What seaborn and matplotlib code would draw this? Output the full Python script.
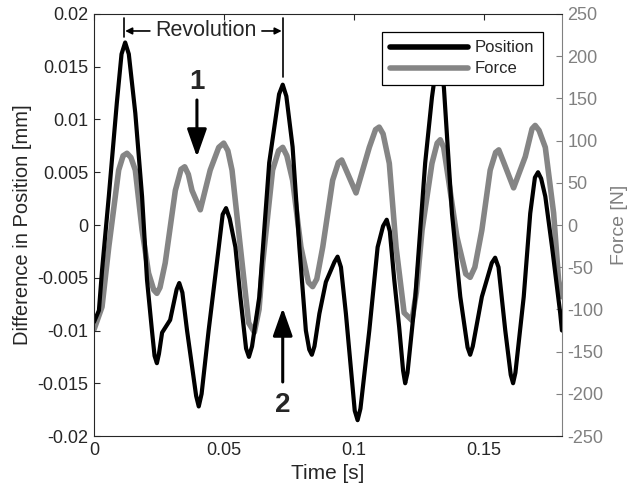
import numpy as np
import pandas as pd
import matplotlib
matplotlib.use("Agg")
import matplotlib.pyplot as plt
import seaborn as sns

# Position deviation of the spindle [mm] over time [s]
pos_t = [0.0000, 0.0019, 0.0031, 0.0057, 0.0088, 0.0106, 0.0120, 0.0134, 0.0159, 0.0185,
         0.0204, 0.0223, 0.0233, 0.0242, 0.0250, 0.0262, 0.0293, 0.0318, 0.0328, 0.0340,
         0.0358, 0.0393, 0.0403, 0.0414, 0.0441, 0.0480, 0.0495, 0.0508, 0.0522, 0.0544,
         0.0563, 0.0585, 0.0596, 0.0608, 0.0636, 0.0674, 0.0712, 0.0726, 0.0740, 0.0764,
         0.0790, 0.0815, 0.0828, 0.0838, 0.0848, 0.0867, 0.0892, 0.0925, 0.0937, 0.0950,
         0.0969, 0.1003, 0.1014, 0.1025, 0.1059, 0.1091, 0.1112, 0.1126, 0.1138, 0.1155,
         0.1174, 0.1189, 0.1197, 0.1206, 0.1236, 0.1274, 0.1300, 0.1315, 0.1327, 0.1339,
         0.1346, 0.1377, 0.1409, 0.1437, 0.1447, 0.1457, 0.1492, 0.1530, 0.1543, 0.1556,
         0.1582, 0.1603, 0.1612, 0.1621, 0.1653, 0.1678, 0.1696, 0.1708, 0.1720, 0.1736,
         0.1762, 0.1793, 0.1800]
pos_mm = [-0.0092, -0.0081, -0.0043, 0.0027, 0.0116, 0.0162, 0.0173, 0.0162, 0.0106, 0.0027,
          -0.0052, -0.0100, -0.0124, -0.0131, -0.0122, -0.0102, -0.0090, -0.0061, -0.0055, -0.0064,
          -0.0100, -0.0162, -0.0172, -0.0160, -0.0100, -0.0021, 0.0010, 0.0016, 0.0006, -0.0021,
          -0.0068, -0.0117, -0.0125, -0.0115, -0.0068, 0.0059, 0.0124, 0.0133, 0.0122, 0.0074,
          -0.0021, -0.0100, -0.0118, -0.0123, -0.0115, -0.0084, -0.0054, -0.0035, -0.0030, -0.0040,
          -0.0084, -0.0176, -0.0185, -0.0174, -0.0100, -0.0021, -0.0001, 0.0005, -0.0006, -0.0052,
          -0.0097, -0.0138, -0.0150, -0.0140, -0.0068, 0.0059, 0.0121, 0.0148, 0.0155, 0.0145,
          0.0130, 0.0011, -0.0068, -0.0116, -0.0123, -0.0115, -0.0068, -0.0036, -0.0031, -0.0040,
          -0.0100, -0.0142, -0.0150, -0.0140, -0.0068, 0.0011, 0.0045, 0.0050, 0.0044, 0.0027,
          -0.0021, -0.0083, -0.0100]

# Cutting force [N] over time [s]
force_t = [0.0000, 0.0031, 0.0057, 0.0095, 0.0112, 0.0127, 0.0142, 0.0159, 0.0185, 0.0210,
           0.0230, 0.0242, 0.0254, 0.0274, 0.0313, 0.0335, 0.0349, 0.0363, 0.0377, 0.0409,
           0.0447, 0.0480, 0.0499, 0.0515, 0.0531, 0.0563, 0.0595, 0.0617, 0.0635, 0.0649,
           0.0687, 0.0710, 0.0726, 0.0742, 0.0764, 0.0796, 0.0825, 0.0841, 0.0857, 0.0880,
           0.0918, 0.0940, 0.0953, 0.0970, 0.1008, 0.1059, 0.1083, 0.1097, 0.1112, 0.1136,
           0.1162, 0.1193, 0.1223, 0.1240, 0.1262, 0.1300, 0.1320, 0.1332, 0.1345, 0.1364,
           0.1396, 0.1430, 0.1447, 0.1465, 0.1492, 0.1524, 0.1545, 0.1557, 0.1575, 0.1614,
           0.1659, 0.1685, 0.1697, 0.1712, 0.1736, 0.1768, 0.1787, 0.1800]
force_n = [-124, -97, -26, 65, 82, 85, 80, 65, -6, -57,
           -77, -81, -74, -45, 41, 66, 69, 60, 41, 18,
           65, 92, 97, 88, 65, -26, -116, -127, -100, -45,
           65, 88, 92, 82, 53, -26, -68, -73, -64, -26,
           53, 74, 77, 65, 38, 92, 113, 116, 108, 73,
           -26, -104, -113, -80, -6, 73, 97, 101, 92, 53,
           -14, -58, -62, -50, -6, 65, 86, 89, 75, 44,
           81, 114, 118, 112, 92, 14, -65, -85]

x_ticks = [0, 0.05, 0.1, 0.15]
x_ticklabels = ["0", "0.05", "0.1", "0.15"]
pos_ticks = [-0.02, -0.015, -0.01, -0.005, 0, 0.005, 0.01, 0.015, 0.02]
pos_ticklabels = ["-0.02", "-0.015", "-0.01", "-0.005", "0", "0.005", "0.01", "0.015", "0.02"]
force_ticks = [-250, -200, -150, -100, -50, 0, 50, 100, 150, 200, 250]

sns.set_theme(style="white")
plt.rcParams["font.family"] = ["Liberation Sans", "DejaVu Sans"]
plt.rcParams["axes.unicode_minus"] = False

DARK = "#262626"
GREY = "#858585"
GREY_AX = "#808080"

fig = plt.figure(figsize=(6.29, 4.91), dpi=100)
ax = fig.add_axes([0.1494, 0.1120, 0.7440, 0.8595])
ax2 = ax.twinx()

df_pos = pd.DataFrame({"Time": pos_t, "Position": pos_mm})
df_force = pd.DataFrame({"Time": force_t, "Force": force_n})

sns.lineplot(data=df_force, x="Time", y="Force", ax=ax2, color=GREY, lw=4.0,
             estimator=None, sort=False, label="Force", legend=False)
sns.lineplot(data=df_pos, x="Time", y="Position", ax=ax, color="black", lw=3.0,
             estimator=None, sort=False, label="Position", legend=False)
for ln in ax.get_lines() + ax2.get_lines():
    ln.set_solid_joinstyle("round")

# black curve drawn above the grey one
ax.set_zorder(ax2.get_zorder() + 1)
ax.patch.set_visible(False)

ax.set_xlim(0, 0.18)
ax.set_ylim(-0.02, 0.02)
ax2.set_ylim(-250, 250)

ax.set_xticks(x_ticks)
ax.set_xticklabels(x_ticklabels)
ax.set_yticks(pos_ticks)
ax.set_yticklabels(pos_ticklabels)
ax2.set_yticks(force_ticks)

ax.set_xlabel("Time [s]", fontsize=15, color=DARK, labelpad=4)
ax.set_ylabel("Difference in Position [mm]", fontsize=14.5, color=DARK, labelpad=4)
ax2.set_ylabel("Force [N]", fontsize=14, color=GREY_AX, labelpad=5)

ax.tick_params(axis="both", direction="in", length=4, width=0.8, colors=DARK,
               labelsize=13, top=True, right=False, pad=4)
ax2.tick_params(axis="y", direction="in", length=4, width=0.8, colors=GREY_AX,
                labelsize=13, pad=4)

for side in ["left", "bottom", "top"]:
    ax.spines[side].set_color(DARK)
    ax.spines[side].set_linewidth(0.8)
ax.spines["right"].set_visible(False)
for side in ["left", "bottom", "top"]:
    ax2.spines[side].set_visible(False)
ax2.spines["right"].set_color(GREY_AX)
ax2.spines["right"].set_linewidth(0.8)

# Legend
h1, l1 = ax.get_legend_handles_labels()
h2, l2 = ax2.get_legend_handles_labels()
leg = ax.legend(h1 + h2, l1 + l2, loc="upper right", bbox_to_anchor=(0.9588, 0.957),
                fontsize=12, frameon=True, fancybox=False, edgecolor="black",
                framealpha=1, facecolor="white",
                handlelength=4.7, handletextpad=0.4, borderpad=0.5, labelspacing=0.36,
                borderaxespad=0)
leg.get_frame().set_linewidth(0.9)
leg.set_zorder(10)
for line in leg.get_lines():
    line.set_linewidth(4.0)

# Revolution marker between two position peaks
rev_start, rev_end = 0.0116, 0.0726
ax.plot([rev_start, rev_start], [0.01782, 0.01962], color="black", lw=1.2)
ax.plot([rev_end, rev_end], [0.01403, 0.01962], color="black", lw=1.2)
ax.annotate("", xy=(rev_start + 0.0004, 0.01839), xytext=(0.0215, 0.01839),
            arrowprops=dict(arrowstyle="-|>", color="black", lw=1.2, mutation_scale=10,
                            shrinkA=0, shrinkB=0))
ax.annotate("", xy=(rev_end - 0.0004, 0.01839), xytext=(0.0646, 0.01839),
            arrowprops=dict(arrowstyle="-|>", color="black", lw=1.2, mutation_scale=10,
                            shrinkA=0, shrinkB=0))
ax.text((0.0215 + 0.0646) / 2, 0.01839, "Revolution", fontsize=15.5, color=DARK,
        ha="center", va="center")

# Numbered arrows
ax.annotate("", xy=(0.0396, 0.00645), xytext=(0.0396, 0.01185),
            arrowprops=dict(arrowstyle="-|>,head_width=0.3,head_length=0.85", color="black",
                            lw=2.2, mutation_scale=20, shrinkA=0, shrinkB=0))
ax.text(0.0396, 0.0136, "1", fontsize=20, fontweight="bold", color=DARK,
        ha="center", va="center")
ax.annotate("", xy=(0.0726, -0.00787), xytext=(0.0726, -0.01488),
            arrowprops=dict(arrowstyle="-|>,head_width=0.3,head_length=0.85", color="black",
                            lw=2.2, mutation_scale=20, shrinkA=0, shrinkB=0))
ax.text(0.0726, -0.01706, "2", fontsize=20, fontweight="bold", color=DARK,
        ha="center", va="center")

fig.savefig("out.png", dpi=100)
